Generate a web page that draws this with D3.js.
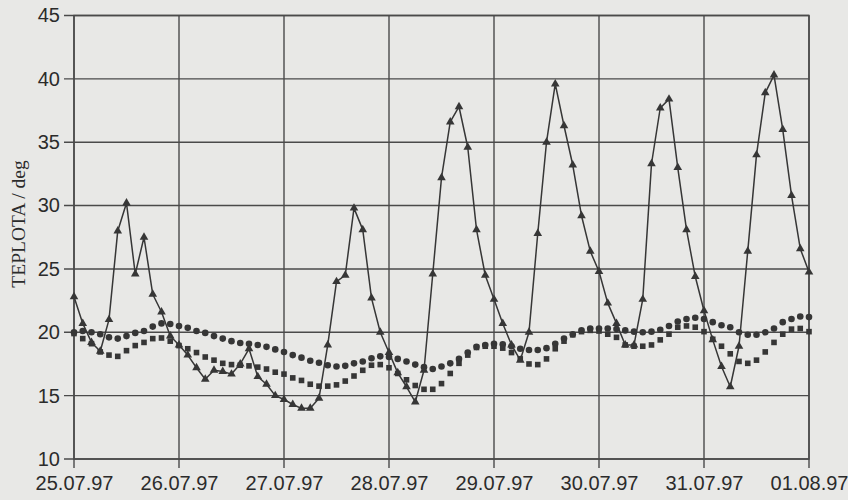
<!DOCTYPE html>
<html>
<head>
<meta charset="utf-8">
<script src="https://cdn.jsdelivr.net/npm/d3@7"></script>
<style>
  html, body { margin: 0; padding: 0; background: #e8e8e6; }
  svg { display: block; }
</style>
</head>
<body>
<svg id="chart" width="848" height="500"></svg>
<script>
// Temperature readings every 2 hours, 25.07.97 00:00 – 01.08.97 00:00
const startDate = Date.UTC(1997, 6, 25);
const stepHours = 2;

// Triangles: strongly varying series
const seriesTriangles = [
  22.8, 20.7, 19.2, 18.5, 21.0, 28.0, 30.2, 24.6, 27.5, 23.0, 21.6, 19.7,
  19.0, 18.2, 17.2, 16.3, 17.0, 16.9, 16.7, 17.5, 18.7, 16.5, 15.9, 15.0,
  14.7, 14.3, 14.0, 14.0, 14.8, 19.0, 24.0, 24.5, 29.8, 28.1, 22.7, 20.0,
  18.4, 16.8, 15.7, 14.5, 17.0, 24.6, 32.2, 36.6, 37.8, 34.6, 28.1, 24.5,
  22.6, 20.7, 19.0, 17.8, 20.0, 27.8, 35.0, 39.6, 36.3, 33.2, 29.2, 26.4,
  24.8, 22.3, 20.7, 19.0, 19.0, 22.6, 33.3, 37.7, 38.4, 33.0, 28.1, 24.4,
  21.7, 19.4, 17.3, 15.7, 18.9, 26.4, 34.0, 38.9, 40.3, 36.0, 30.8, 26.6,
  24.75
];

// Circles
const seriesCircles = [
  20.0, 20.1, 20.0, 19.85, 19.6, 19.5, 19.7, 19.95, 20.1, 20.45, 20.7, 20.65,
  20.5, 20.35, 20.1, 19.95, 19.7, 19.5, 19.3, 19.15, 19.1, 19.0, 18.85, 18.65,
  18.45, 18.2, 18.0, 17.75, 17.6, 17.4, 17.3, 17.35, 17.55, 17.7, 17.95, 18.1,
  18.05, 17.9, 17.7, 17.45, 17.25, 17.1, 17.3, 17.55, 17.9, 18.4, 18.85, 19.0,
  19.1, 19.05, 18.9, 18.7, 18.6, 18.6, 18.75, 19.1, 19.5, 19.85, 20.15, 20.3,
  20.3, 20.3, 20.25, 20.15, 20.05, 20.0, 20.05, 20.2, 20.5, 20.85, 21.05, 21.15,
  21.05, 20.8, 20.55, 20.4, 20.0, 19.8, 19.8, 20.0, 20.3, 20.8, 21.05, 21.25,
  21.2
];

// Squares
const seriesSquares = [
  19.9, 19.5, 19.1, 18.45, 18.2, 18.1, 18.55, 18.95, 19.2, 19.5, 19.55, 19.3,
  18.95, 18.7, 18.4, 18.05, 17.8, 17.55, 17.45, 17.4, 17.35, 17.25, 17.1, 16.85,
  16.7, 16.4, 16.2, 15.9, 15.75, 15.75, 15.85, 16.15, 16.55, 17.0, 17.4, 17.45,
  17.2, 16.75, 16.25, 15.8, 15.5, 15.5, 15.95, 16.75, 17.55, 18.2, 18.8, 18.9,
  18.9, 18.75, 18.4, 17.9, 17.5, 17.45, 17.9, 18.7, 19.3, 19.8, 20.05, 20.15,
  20.1, 19.85, 19.6, 19.0, 18.9, 18.9, 19.0, 19.4, 19.85, 20.4, 20.5, 20.4,
  20.05, 19.45, 18.9, 18.3, 17.7, 17.55, 17.8, 18.45, 19.2, 19.85, 20.25, 20.3,
  20.05
];

// Axis labels
const xTickLabels = ["25.07.97", "26.07.97", "27.07.97", "28.07.97", "29.07.97", "30.07.97", "31.07.97", "01.08.97"];
const yTickValues = [10, 15, 20, 25, 30, 35, 40, 45];
const yTitle = "TEPLOTA / deg";

const W = 848, H = 500;
const margin = { top: 15.5, right: 39, bottom: 41, left: 74 };
const plotW = W - margin.left - margin.right;
const plotH = H - margin.top - margin.bottom;

const ink = "#363636";
const gridInk = "#4a4a4a";

const svg = d3.select("#chart");
const g = svg.append("g").attr("transform", `translate(${margin.left},${margin.top})`);

const timeOf = i => new Date(startDate + i * stepHours * 3600 * 1000);
const dayDates = xTickLabels.map((_, k) => new Date(startDate + k * 24 * 3600 * 1000));

const x = d3.scaleUtc()
  .domain([dayDates[0], dayDates[dayDates.length - 1]])
  .range([0, plotW]);
const y = d3.scaleLinear().domain([10, 45]).range([plotH, 0]);

// Horizontal grid lines, running a little past the left edge as tick marks
g.append("g").selectAll("line")
  .data(yTickValues)
  .join("line")
  .attr("x1", -10).attr("x2", plotW)
  .attr("y1", d => y(d)).attr("y2", d => y(d))
  .attr("stroke", gridInk).attr("stroke-width", 1.4);

// Vertical grid lines, extended below the bottom edge as tick marks
g.append("g").selectAll("line")
  .data(dayDates)
  .join("line")
  .attr("x1", d => x(d)).attr("x2", d => x(d))
  .attr("y1", 0).attr("y2", plotH + 9)
  .attr("stroke", gridInk).attr("stroke-width", 1.4);

// Frame
g.append("rect")
  .attr("x", 0).attr("y", 0).attr("width", plotW).attr("height", plotH)
  .attr("fill", "none").attr("stroke", gridInk).attr("stroke-width", 1.5);

// Y axis labels
const yAxis = g.append("g")
  .call(d3.axisLeft(y).tickValues(yTickValues).tickSize(0).tickPadding(14).tickFormat(d3.format("d")));
yAxis.select(".domain").remove();
yAxis.selectAll("text")
  .attr("font-family", "Liberation Sans, Arial, sans-serif")
  .attr("font-size", 20).attr("fill", "#2b2b2b");

// X axis labels
const xAxis = g.append("g")
  .attr("transform", `translate(0,${plotH})`)
  .call(d3.axisBottom(x).tickValues(dayDates).tickSize(0).tickPadding(17)
    .tickFormat((d, k) => xTickLabels[k]));
xAxis.select(".domain").remove();
xAxis.selectAll("text")
  .attr("font-family", "Liberation Sans, Arial, sans-serif")
  .attr("font-size", 20).attr("fill", "#2b2b2b");

// Y axis title
svg.append("text")
  .attr("transform", `translate(25,224) rotate(-90)`)
  .attr("text-anchor", "middle")
  .attr("font-family", "Liberation Serif, Times New Roman, serif")
  .attr("font-size", 19.5)
  .attr("fill", "#2b2b2b")
  .text(yTitle);

// Circles series (markers only)
g.append("g").selectAll("circle")
  .data(seriesCircles)
  .join("circle")
  .attr("cx", (d, i) => x(timeOf(i)))
  .attr("cy", d => y(d))
  .attr("r", 3.3)
  .attr("fill", ink);

// Squares series (markers only)
const sq = 5.6;
g.append("g").selectAll("rect")
  .data(seriesSquares)
  .join("rect")
  .attr("x", (d, i) => x(timeOf(i)) - sq / 2)
  .attr("y", d => y(d) - sq / 2)
  .attr("width", sq).attr("height", sq)
  .attr("fill", ink);

// Triangles series: line with markers
const line = d3.line()
  .x((d, i) => x(timeOf(i)))
  .y(d => y(d));
g.append("path")
  .datum(seriesTriangles)
  .attr("d", line)
  .attr("fill", "none")
  .attr("stroke", ink)
  .attr("stroke-width", 1.5)
  .attr("stroke-linejoin", "round");

const tri = d3.symbol().type(d3.symbolTriangle).size(32);
g.append("g").selectAll("path")
  .data(seriesTriangles)
  .join("path")
  .attr("transform", (d, i) => `translate(${x(timeOf(i))},${y(d)})`)
  .attr("d", tri)
  .attr("fill", ink);
</script>
</body>
</html>
